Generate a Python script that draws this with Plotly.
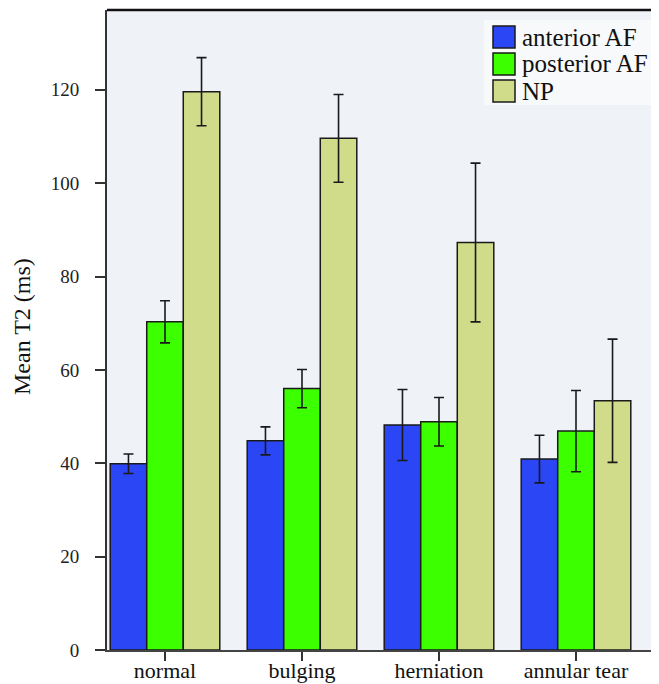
import plotly.graph_objects as go

categories = ["normal", "bulging", "herniation", "annular tear"]
series_names = ["anterior AF", "posterior AF", "NP"]
anterior_af = [39.9, 44.8, 48.2, 40.9]
anterior_err = [2.1, 3.0, 7.6, 5.1]
posterior_af = [70.3, 56.0, 48.9, 46.9]
posterior_err = [4.5, 4.1, 5.2, 8.7]
np_vals = [119.6, 109.6, 87.3, 53.4]
np_err = [7.3, 9.4, 17.0, 13.2]
y_ticks = [0, 20, 40, 60, 80, 100, 120]
colors = ["#2a46f5", "#3cff00", "#d1dc8a"]

SERIF = "Liberation Serif, Times New Roman, serif"
OFF = 8  # default page body margin
W, H = 659 - OFF, 684 - OFF
ML, MR, MT, MB = 107 - OFF, 0, 10 - OFF, 34
PW, PH = W - ML - MR, H - MT - MB


def px_x(px):
    # px measured in screenshot coordinates
    return (px - OFF - ML) / PW


def px_y(py):
    return (H - MB - (py - OFF)) / PH


x_pos = list(range(len(categories)))
fig = go.Figure()
for name, vals, errs, col in zip(series_names,
                                 [anterior_af, posterior_af, np_vals],
                                 [anterior_err, posterior_err, np_err],
                                 colors):
    fig.add_trace(go.Bar(
        x=x_pos, y=vals, name=name,
        marker=dict(color=col, line=dict(color="#1a1a1a", width=1.5)),
        error_y=dict(type="data", array=errs, color="#1a1a1a",
                     thickness=1.6, width=5),
    ))

# custom legend (box, swatches, labels)
shapes = [
    dict(type="rect", xref="paper", yref="paper",
         x0=px_x(484), x1=px_x(655), y0=px_y(105), y1=px_y(20),
         fillcolor="#f7f9fb", line=dict(width=0), layer="below"),
    dict(type="line", xref="paper", yref="paper", x0=0, x1=1, y0=1, y1=1,
         line=dict(color="#111", width=2.5)),
]
annotations = []
row_centers = [37, 64, 91]
for name, col, cy in zip(series_names, colors, row_centers):
    shapes.append(dict(type="rect", xref="paper", yref="paper",
                       x0=px_x(493), x1=px_x(515), y0=px_y(cy + 11), y1=px_y(cy - 11),
                       fillcolor=col, line=dict(color="#1a1a1a", width=1.5)))
    annotations.append(dict(xref="paper", yref="paper", x=px_x(520), y=px_y(cy),
                            xanchor="left", yanchor="middle", text=name, showarrow=False,
                            font=dict(size=25, family=SERIF, color="#111")))

# left/right pixel edges of plot in screenshot coordinates -> category units
left_px, right_px, c0_px, step_px = 107, 659, 165, 137
x_range = [(left_px - c0_px) / step_px, (right_px - c0_px) / step_px]

fig.update_layout(
    width=W, height=H,
    barmode="group", bargap=0.2, bargroupgap=0,
    paper_bgcolor="white", plot_bgcolor="#eff3f8",
    margin=dict(l=ML, r=MR, t=MT, b=MB, autoexpand=False),
    font=dict(family=SERIF, color="#222"),
    showlegend=False,
    xaxis=dict(
        tickmode="array", tickvals=x_pos, ticktext=categories,
        range=x_range, automargin=False,
        showline=True, linecolor="#444", linewidth=2, mirror=False,
        ticks="outside", ticklen=9, tickwidth=1.5, tickcolor="#333",
        ticklabelstandoff=-9,
        tickfont=dict(size=22, family=SERIF, color="#111"),
        showgrid=False, zeroline=False,
    ),
    yaxis=dict(
        range=[0, 137.1], tickvals=y_ticks, automargin=False,
        showline=True, linecolor="#333", linewidth=2,
        ticks="outside", ticklen=10, tickwidth=1.5, tickcolor="#333",
        ticklabelstandoff=12,
        tickfont=dict(size=19, family=SERIF, color="#222"),
        showgrid=False, zeroline=False,
    ),
    shapes=shapes,
    annotations=annotations + [
        dict(xref="paper", yref="paper", x=px_x(22), y=px_y(327),
             xanchor="center", yanchor="middle", textangle=-90,
             text="Mean T2 (ms)", showarrow=False,
             font=dict(size=24, family=SERIF, color="#111")),
    ],
)

fig.write_html("out.html")
